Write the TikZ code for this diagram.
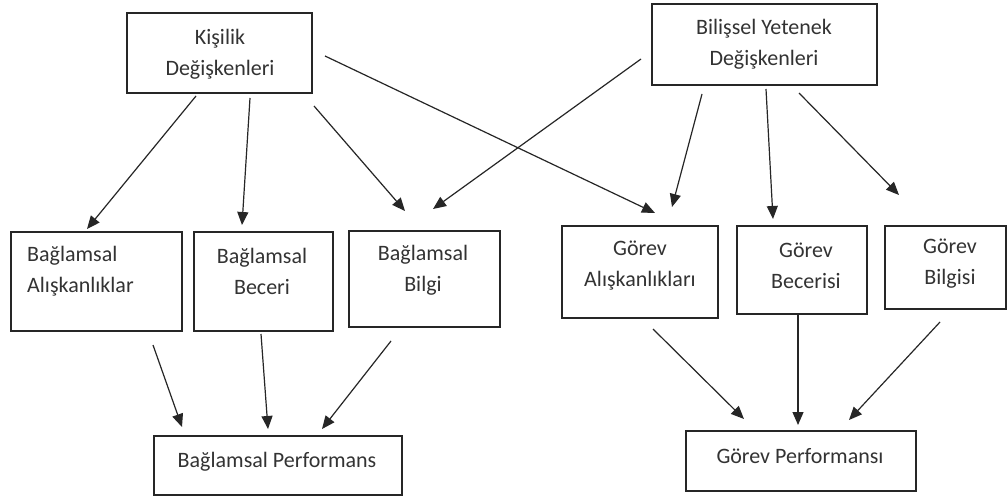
\documentclass[tikz,border=0pt]{standalone}
\usepackage{fontspec}
\setmainfont{Carlito}
\usetikzlibrary{arrows.meta}
\begin{document}
\begin{tikzpicture}[x=1pt,y=-1pt,
  box/.style={draw=black!85,line width=1.3pt,inner sep=0pt,rectangle},
  lbl/.style={font=\fontsize{22}{31}\selectfont,text=black!80,align=center,inner sep=0pt},
  arr/.style={draw=black!85,line width=1.2pt,-{Triangle[length=13pt,width=11pt]}}]
\useasboundingbox[fill=white] (0,0) rectangle (1008,497);
% boxes
\node[box,minimum width=185pt,minimum height=80pt] (kis) at (219.5,53) {};
\node[box,minimum width=225pt,minimum height=81pt] (bil) at (764.5,44.5) {};
\node[box,minimum width=171pt,minimum height=99pt] (ba) at (96.5,281.5) {};
\node[box,minimum width=139pt,minimum height=99pt] (bb) at (263.5,281.5) {};
\node[box,minimum width=151pt,minimum height=96pt] (bbi) at (424.5,279) {};
\node[box,minimum width=156pt,minimum height=92pt] (ga) at (640,272) {};
\node[box,minimum width=130pt,minimum height=88pt] (gb) at (802,270) {};
\node[box,minimum width=121pt,minimum height=83pt] (gbi) at (945.5,267.5) {};
\node[box,minimum width=248pt,minimum height=59pt] (bp) at (278,465.5) {};
\node[box,minimum width=230pt,minimum height=60pt] (gp) at (801,461) {};
% texts
\node[lbl] (tkis) at (220,54) {Kişilik\\Değişkenleri};
\node[lbl] (tbil) at (764,44) {Bilişsel Yetenek\\Değişkenleri};
\node[lbl,align=left,anchor=west] (tba) at (27,271) {Bağlamsal\\Alışkanlıklar};
\node[lbl] (tbb) at (262,271) {Bağlamsal\\Beceri};
\node[lbl] (tbbi) at (423,270) {Bağlamsal\\Bilgi};
\node[lbl] (tga) at (640,266) {Görev\\Alışkanlıkları};
\node[lbl] (tgb) at (806,266) {Görev\\Becerisi};
\node[lbl] (tgbi) at (950,264) {Görev\\Bilgisi};
\node[lbl] (tbp) at (277,462) {Bağlamsal Performans};
\node[lbl] (tgp) at (800,456) {Görev Performansı};
% arrow end points
\coordinate (s1) at (196,96);  \coordinate (e1) at (87,229);
\coordinate (s2) at (250,98);  \coordinate (e2) at (242,225);
\coordinate (s3) at (314,106); \coordinate (e3) at (405,211);
\coordinate (s4) at (325,56);  \coordinate (e4) at (655,213);
\coordinate (s5) at (641,59);  \coordinate (e5) at (433,209);
\coordinate (s6) at (702,94);  \coordinate (e6) at (672,207);
\coordinate (s7) at (766,89);  \coordinate (e7) at (773,219);
\coordinate (s8) at (799,93);  \coordinate (e8) at (899,195);
\coordinate (s9) at (153,345); \coordinate (e9) at (182,427);
\coordinate (s10) at (261,334); \coordinate (e10) at (268,429);
\coordinate (s11) at (391,341); \coordinate (e11) at (322,429);
\coordinate (s12) at (653,329); \coordinate (e12) at (744,419);
\coordinate (s13) at (798,314); \coordinate (e13) at (798,425);
\coordinate (s14) at (940,322); \coordinate (e14) at (849,420);
\foreach \i in {1,...,14} {\draw[arr] (s\i) -- (e\i);}
\end{tikzpicture}
\end{document}
